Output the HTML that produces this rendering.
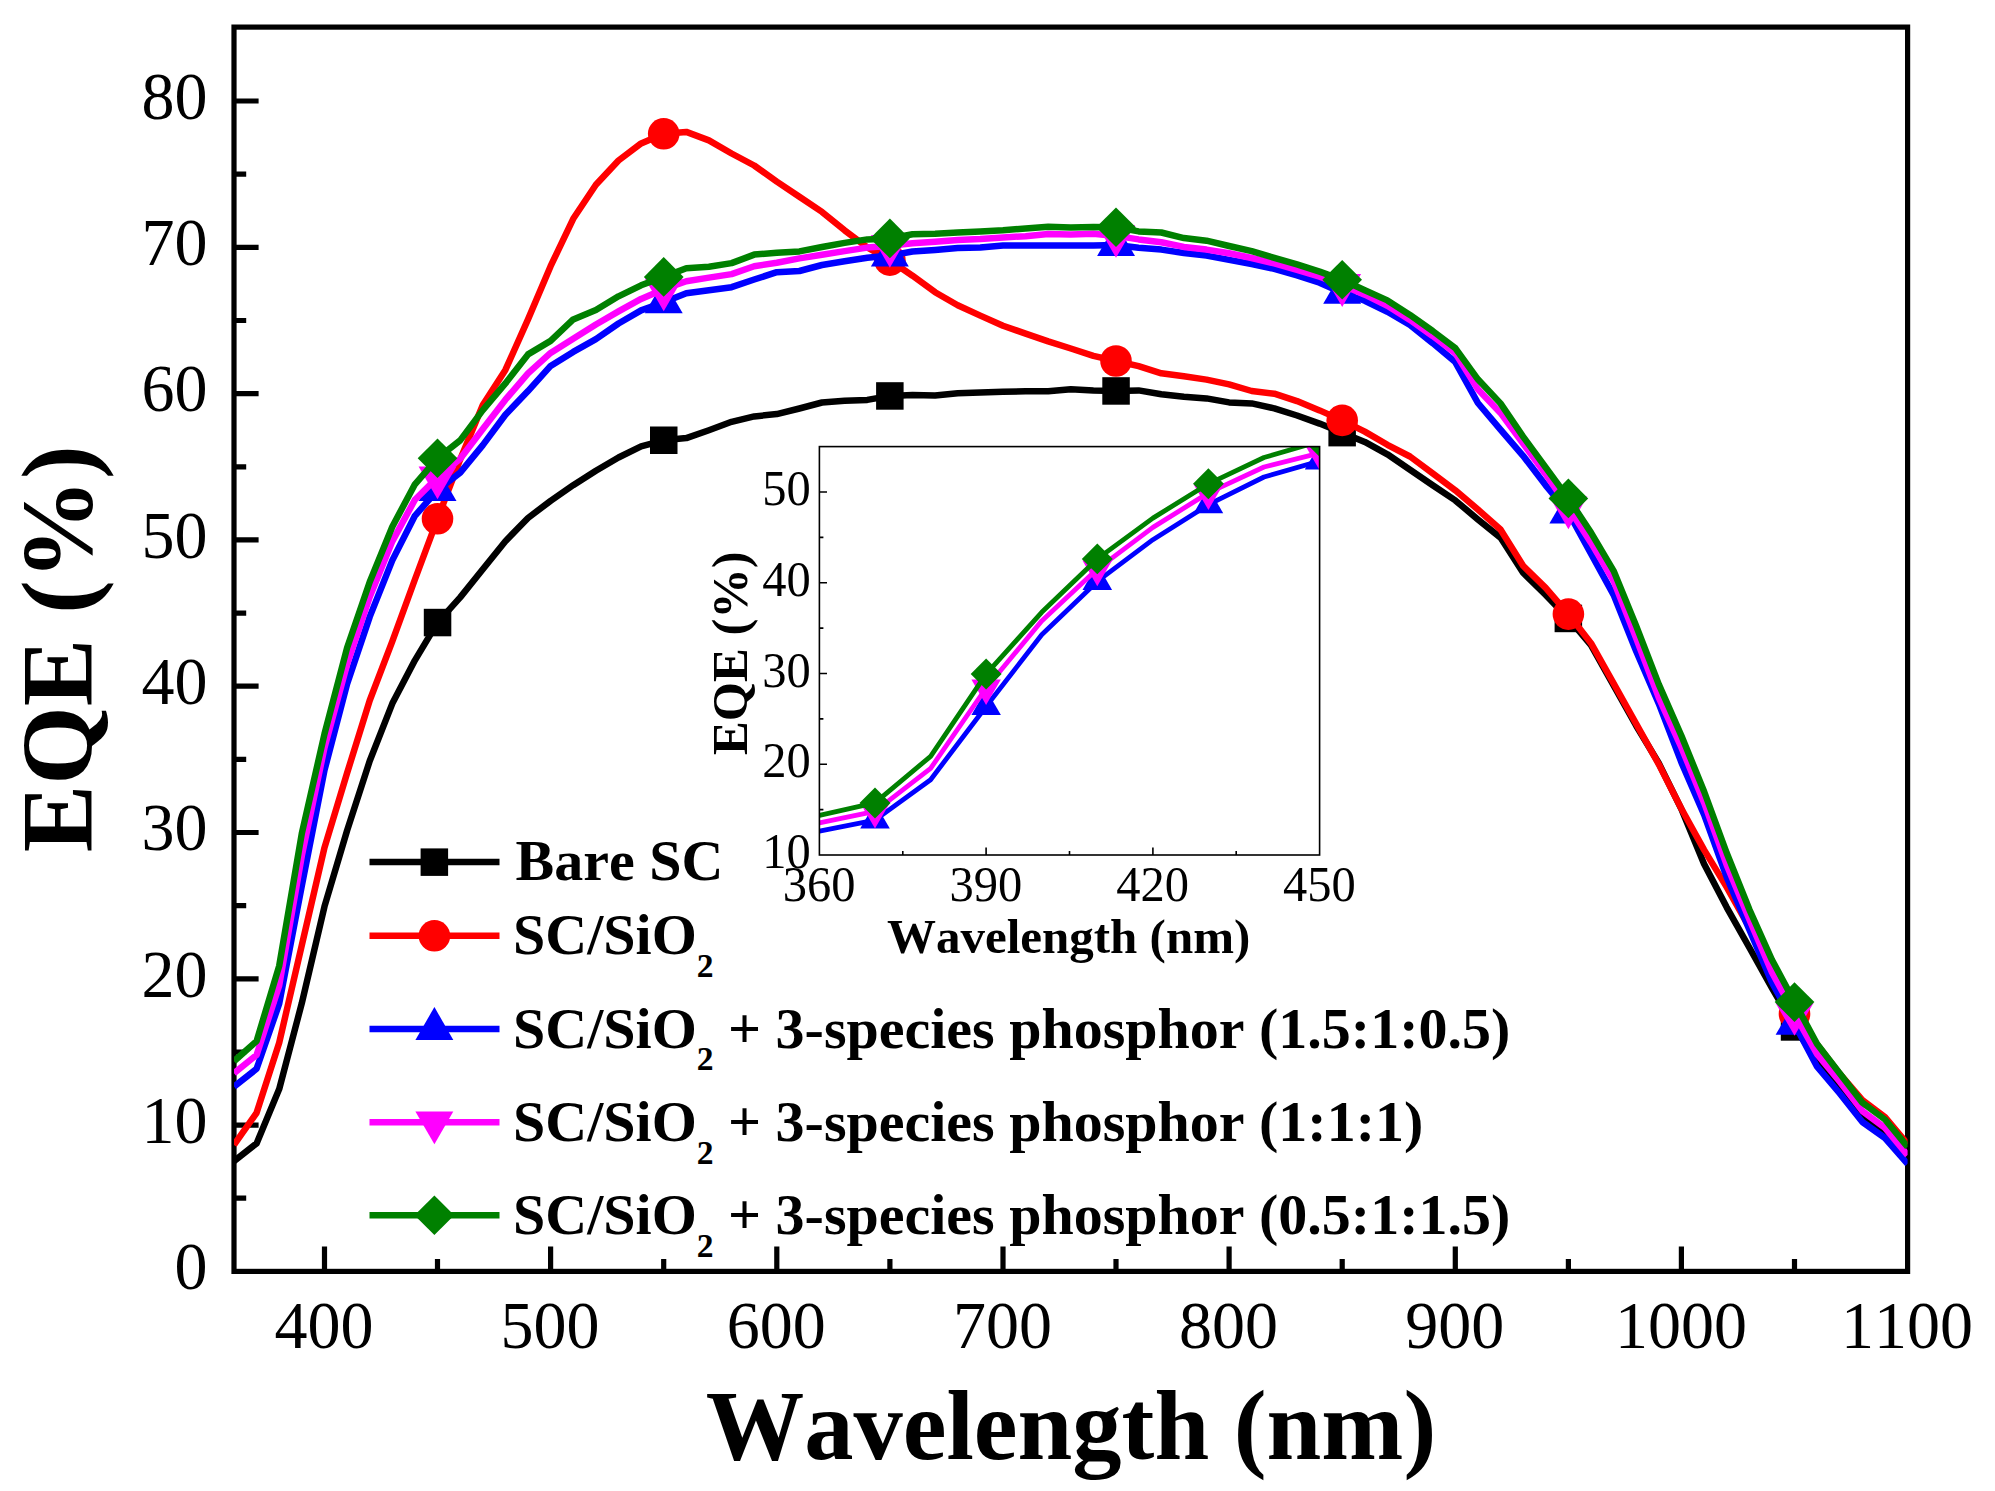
<!DOCTYPE html>
<html lang="en"><head><meta charset="utf-8"><title>EQE vs Wavelength</title>
<style>html,body{margin:0;padding:0;background:#fff}svg{display:block}text{font-kerning:none;font-family:"Liberation Serif",serif;fill:#000}.b{font-weight:bold}</style></head><body>
<svg width="1995" height="1491" viewBox="0 0 1995 1491">
<rect width="1995" height="1491" fill="#fff"/>
<defs><clipPath id="cm"><rect x="234" y="27.1" width="1673.6" height="1244.3"/></clipPath>
<clipPath id="ci"><rect x="819.4" y="446.6" width="500.2" height="408.4"/></clipPath></defs>
<g stroke="#000" stroke-width="5.2" fill="none">
<rect x="234" y="27.1" width="1673.6" height="1244.3"/>
<path d="M234 1198.2h12.2M234 1125.1h24.6M234 1052h12.2M234 978.8h24.6M234 905.7h12.2M234 832.5h24.6M234 759.4h12.2M234 686.2h24.6M234 613.1h12.2M234 539.9h24.6M234 466.8h12.2M234 393.6h24.6M234 320.5h12.2M234 247.3h24.6M234 174.2h12.2M234 101h24.6M324.5 1271.4v-24.8M437.5 1271.4v-12.4M550.6 1271.4v-24.8M663.7 1271.4v-12.4M776.8 1271.4v-24.8M889.9 1271.4v-12.4M1003 1271.4v-24.8M1116 1271.4v-12.4M1229.1 1271.4v-24.8M1342.2 1271.4v-12.4M1455.3 1271.4v-24.8M1568.4 1271.4v-12.4M1681.4 1271.4v-24.8M1794.5 1271.4v-12.4"/>
</g>
<g clip-path="url(#cm)">
<polyline points="234,1161.1 256.6,1143.4 279.2,1089.1 301.8,1003.2 324.5,906.4 347.1,830.5 369.7,761 392.3,703.6 414.9,660.3 437.5,622.6 460.2,597.4 482.8,569.2 505.4,541.2 528,518 550.6,500.8 573.2,485.2 595.9,470.8 618.5,457.5 641.1,446.3 663.7,440.3 686.3,438.1 708.9,430.2 731.6,421.8 754.2,416.4 776.8,414.1 799.4,408.5 822,402.5 844.6,400.8 867.3,399.9 889.9,395.9 912.5,394.9 935.1,395.5 957.7,393.2 980.3,392.6 1003,391.8 1025.6,391.3 1048.2,391.3 1070.8,389.2 1093.4,390.5 1116,391 1138.6,390.4 1161.3,394.3 1183.9,396.8 1206.5,398.4 1229.1,402.4 1251.7,403.4 1274.3,408.4 1297,415.5 1319.6,423.6 1342.2,432.7 1364.8,441.9 1387.4,454.3 1410,469.7 1432.7,485.3 1455.3,500.4 1477.9,519.4 1500.5,537.6 1523.1,572.8 1545.7,594.9 1568.4,618.5 1591,645.2 1613.6,685.5 1636.2,725.7 1658.8,763.2 1681.4,809.1 1704.1,864 1726.7,907.3 1749.3,947.5 1771.9,987.9 1794.5,1026.9 1817.1,1060.7 1839.8,1088.5 1862.4,1116.3 1885,1133.9 1907.6,1160.2" fill="none" stroke="#000000" stroke-width="6.5" stroke-linejoin="round"/>
<g fill="#000000">
<rect x="423.8" y="608.8" width="27.5" height="27.5"/>
<rect x="650" y="426.5" width="27.5" height="27.5"/>
<rect x="876.1" y="382.2" width="27.5" height="27.5"/>
<rect x="1102.3" y="377.2" width="27.5" height="27.5"/>
<rect x="1328.4" y="418.9" width="27.5" height="27.5"/>
<rect x="1554.6" y="604.7" width="27.5" height="27.5"/>
<rect x="1780.8" y="1013.2" width="27.5" height="27.5"/>
</g>
<polyline points="234,1144.9 256.6,1112.8 279.2,1042.7 301.8,945.2 324.5,847.6 347.1,773 369.7,700.5 392.3,641.3 414.9,579.5 437.5,518.8 460.2,459.4 482.8,404.9 505.4,369.9 528,319.4 550.6,266.2 573.2,218.8 595.9,184.7 618.5,160.5 641.1,143.4 663.7,133.8 686.3,131.9 708.9,140.4 731.6,153.5 754.2,165.5 776.8,181.6 799.4,196.8 822,211.9 844.6,230.3 867.3,247.4 889.9,260.2 912.5,275.7 935.1,292.2 957.7,305.2 980.3,315.6 1003,325.7 1025.6,333.6 1048.2,341.4 1070.8,348.5 1093.4,355.9 1116,361 1138.6,366.2 1161.3,373.3 1183.9,376.3 1206.5,379.6 1229.1,384.4 1251.7,391 1274.3,393.7 1297,401.1 1319.6,410.4 1342.2,420.4 1364.8,431.6 1387.4,444.8 1410,456.5 1432.7,473.3 1455.3,490.3 1477.9,509.5 1500.5,529.5 1523.1,565.8 1545.7,587.9 1568.4,614.1 1591,643.2 1613.6,683.4 1636.2,723.9 1658.8,764.3 1681.4,808.7 1704.1,849.9 1726.7,887.1 1749.3,927.4 1771.9,963.6 1794.5,1013.9 1817.1,1044.6 1839.8,1073.9 1862.4,1100.2 1885,1117.1 1907.6,1144.1" fill="none" stroke="#ff0000" stroke-width="6.5" stroke-linejoin="round"/>
<g fill="#ff0000">
<circle cx="437.5" cy="518.8" r="15.8"/>
<circle cx="663.7" cy="133.8" r="15.8"/>
<circle cx="889.9" cy="260.2" r="15.8"/>
<circle cx="1116" cy="361" r="15.8"/>
<circle cx="1342.2" cy="420.4" r="15.8"/>
<circle cx="1568.4" cy="614.1" r="15.8"/>
<circle cx="1794.5" cy="1013.9" r="15.8"/>
</g>
<polyline points="234,1086.6 256.6,1068.8 279.2,1003.7 301.8,885.8 324.5,770.2 347.1,684 369.7,616.9 392.3,560.4 414.9,515.8 437.5,490.2 460.2,472.6 482.8,445.1 505.4,414.8 528,391.1 550.6,365.9 573.2,351.9 595.9,339.2 618.5,323.5 641.1,310.4 663.7,302.3 686.3,293.2 708.9,290.3 731.6,287.2 754.2,279.5 776.8,272.2 799.4,271 822,265 844.6,261.3 867.3,257.8 889.9,255.6 912.5,251.5 935.1,249.9 957.7,248 980.3,247.4 1003,245.4 1025.6,245.4 1048.2,245.4 1070.8,245.4 1093.4,245.4 1116,245.1 1138.6,247.7 1161.3,249.6 1183.9,253 1206.5,255.6 1229.1,259.9 1251.7,264 1274.3,268.8 1297,275.4 1319.6,282.7 1342.2,292.8 1364.8,300.8 1387.4,311.8 1410,325 1432.7,343.1 1455.3,362.1 1477.9,403 1500.5,429.6 1523.1,455.8 1545.7,485.3 1568.4,512.5 1591,553.7 1613.6,594.9 1636.2,651.2 1658.8,703.6 1681.4,762.4 1704.1,814.7 1726.7,877.1 1749.3,929.4 1771.9,982.5 1794.5,1023.9 1817.1,1066.7 1839.8,1093.5 1862.4,1122 1885,1138 1907.6,1163.9" fill="none" stroke="#0000ff" stroke-width="6.5" stroke-linejoin="round"/>
<g fill="#0000ff">
<polygon points="437.5,468.3 456.5,501.1 418.6,501.1"/>
<polygon points="663.7,280.4 682.7,313.2 644.8,313.2"/>
<polygon points="889.9,233.8 908.8,266.6 870.9,266.6"/>
<polygon points="1116,223.2 1135,256 1097.1,256"/>
<polygon points="1342.2,270.9 1361.1,303.7 1323.2,303.7"/>
<polygon points="1568.4,490.7 1587.3,523.5 1549.4,523.5"/>
<polygon points="1794.5,1002 1813.5,1034.8 1775.6,1034.8"/>
</g>
<polyline points="234,1073.3 256.6,1054.9 279.2,985.5 301.8,855.9 324.5,747.6 347.1,664.3 369.7,597 392.3,541.4 414.9,499.7 437.5,477.4 460.2,458.7 482.8,429 505.4,399.7 528,373.4 550.6,352.9 573.2,338.7 595.9,324.5 618.5,311.4 641.1,298.9 663.7,289.3 686.3,281.2 708.9,277.6 731.6,274.1 754.2,266.2 776.8,262.7 799.4,258.4 822,254.8 844.6,251.1 867.3,247.6 889.9,245.8 912.5,243.3 935.1,241.7 957.7,240.1 980.3,239.1 1003,237.4 1025.6,236.2 1048.2,234.1 1070.8,234.4 1093.4,233.7 1116,235.9 1138.6,239.4 1161.3,242.2 1183.9,246.9 1206.5,249.6 1229.1,253.2 1251.7,258 1274.3,263.4 1297,269.8 1319.6,276.6 1342.2,285 1364.8,294.7 1387.4,305.8 1410,319.9 1432.7,336 1455.3,353.1 1477.9,389.2 1500.5,412.9 1523.1,443.6 1545.7,474.2 1568.4,507.4 1591,542.7 1613.6,580.9 1636.2,638.2 1658.8,697.6 1681.4,747.4 1704.1,802.7 1726.7,865 1749.3,919.3 1771.9,972.2 1794.5,1013.9 1817.1,1054.1 1839.8,1081.8 1862.4,1111.1 1885,1127.9 1907.6,1155.1" fill="none" stroke="#ff00ff" stroke-width="6.5" stroke-linejoin="round"/>
<g fill="#ff00ff">
<polygon points="437.5,499.3 456.5,466.5 418.6,466.5"/>
<polygon points="663.7,311.2 682.7,278.4 644.8,278.4"/>
<polygon points="889.9,267.7 908.8,234.9 870.9,234.9"/>
<polygon points="1116,257.8 1135,225 1097.1,225"/>
<polygon points="1342.2,306.9 1361.1,274.1 1323.2,274.1"/>
<polygon points="1568.4,529.3 1587.3,496.5 1549.4,496.5"/>
<polygon points="1794.5,1035.8 1813.5,1003 1775.6,1003"/>
</g>
<polyline points="234,1061.2 256.6,1041.1 279.2,965.9 301.8,833.5 324.5,733.9 347.1,647.7 369.7,582 392.3,526.7 414.9,484.3 437.5,458.3 460.2,440.4 482.8,410.1 505.4,383.4 528,354.4 550.6,340.9 573.2,319.4 595.9,310.1 618.5,296.3 641.1,285.3 663.7,276.9 686.3,268.2 708.9,266.8 731.6,263.1 754.2,254.6 776.8,252.7 799.4,251.4 822,247 844.6,242.9 867.3,239.4 889.9,238.4 912.5,234.3 935.1,233.7 957.7,232.5 980.3,231.4 1003,230.2 1025.6,228.4 1048.2,226.8 1070.8,227.4 1093.4,227 1116,227.3 1138.6,231.4 1161.3,232.5 1183.9,238.1 1206.5,240.7 1229.1,246 1251.7,251.1 1274.3,257.8 1297,264.4 1319.6,271.6 1342.2,279.8 1364.8,290.2 1387.4,300.4 1410,314.9 1432.7,331 1455.3,348.1 1477.9,379.3 1500.5,403.4 1523.1,436.6 1545.7,467.5 1568.4,498.4 1591,532.6 1613.6,570.8 1636.2,626.1 1658.8,684.4 1681.4,735.8 1704.1,791.5 1726.7,853 1749.3,909.3 1771.9,959.8 1794.5,1002.1 1817.1,1044 1839.8,1073.5 1862.4,1102.7 1885,1119.5 1907.6,1147" fill="none" stroke="#008000" stroke-width="6.5" stroke-linejoin="round"/>
<g fill="#008000">
<polygon points="437.5,438.4 457.4,458.3 437.5,478.1 417.7,458.3"/>
<polygon points="663.7,257 683.6,276.9 663.7,296.7 643.9,276.9"/>
<polygon points="889.9,218.5 909.7,238.4 889.9,258.2 870,238.4"/>
<polygon points="1116,207.4 1135.9,227.3 1116,247.1 1096.2,227.3"/>
<polygon points="1342.2,259.9 1362,279.8 1342.2,299.6 1322.3,279.8"/>
<polygon points="1568.4,478.5 1588.2,498.4 1568.4,518.2 1548.5,498.4"/>
<polygon points="1794.5,982.2 1814.4,1002.1 1794.5,1021.9 1774.7,1002.1"/>
</g>
</g>
<g font-size="66">
<text text-anchor="end" transform="translate(207.4 1289.2) scale(1 1.04)">0</text>
<text text-anchor="end" transform="translate(207.4 1142.9) scale(1 1.04)">10</text>
<text text-anchor="end" transform="translate(207.4 996.6) scale(1 1.04)">20</text>
<text text-anchor="end" transform="translate(207.4 850.3) scale(1 1.04)">30</text>
<text text-anchor="end" transform="translate(207.4 704) scale(1 1.04)">40</text>
<text text-anchor="end" transform="translate(207.4 557.7) scale(1 1.04)">50</text>
<text text-anchor="end" transform="translate(207.4 411.4) scale(1 1.04)">60</text>
<text text-anchor="end" transform="translate(207.4 265.1) scale(1 1.04)">70</text>
<text text-anchor="end" transform="translate(207.4 118.8) scale(1 1.04)">80</text>
<text text-anchor="middle" transform="translate(324 1348.4) scale(1 1.04)">400</text>
<text text-anchor="middle" transform="translate(550.1 1348.4) scale(1 1.04)">500</text>
<text text-anchor="middle" transform="translate(776.3 1348.4) scale(1 1.04)">600</text>
<text text-anchor="middle" transform="translate(1002.5 1348.4) scale(1 1.04)">700</text>
<text text-anchor="middle" transform="translate(1228.6 1348.4) scale(1 1.04)">800</text>
<text text-anchor="middle" transform="translate(1454.8 1348.4) scale(1 1.04)">900</text>
<text text-anchor="middle" transform="translate(1680.9 1348.4) scale(1 1.04)">1000</text>
<text text-anchor="middle" transform="translate(1907.1 1348.4) scale(1 1.04)">1100</text>
</g>
<text class="b" font-size="98.5" text-anchor="middle" transform="translate(1071 1459.4) scale(1 1.01)">Wavelength (nm)</text>
<text class="b" font-size="101" text-anchor="middle" transform="translate(92 648.8) rotate(-90) scale(1 1.013)">EQE (%)</text>
<path d="M369.5 862.1H499.5" stroke="#000000" stroke-width="6.5"/>
<g fill="#000000"><rect x="420.6" y="848.4" width="27.5" height="27.5"/></g>
<text class="b" font-size="58" x="515.6" y="880.3">Bare SC</text>
<path d="M369.5 935.8H499.5" stroke="#ff0000" stroke-width="6.5"/>
<g fill="#ff0000"><circle cx="434.4" cy="935.8" r="15.8"/></g>
<text class="b" font-size="58" x="513.0" y="954.4">SC/SiO<tspan font-size="33.6" dy="22.6">2</tspan></text>
<path d="M369.5 1029H499.5" stroke="#0000ff" stroke-width="6.5"/>
<g fill="#0000ff"><polygon points="434.4,1007.1 453.3,1039.9 415.4,1039.9"/></g>
<text class="b" font-size="58" x="513.0" y="1047.6">SC/SiO<tspan font-size="33.6" dy="22.6">2</tspan><tspan dy="-22.6"> + 3-species phosphor (1.5:1:0.5)</tspan></text>
<path d="M369.5 1122.3H499.5" stroke="#ff00ff" stroke-width="6.5"/>
<g fill="#ff00ff"><polygon points="434.4,1144.2 453.3,1111.4 415.4,1111.4"/></g>
<text class="b" font-size="58" x="513.0" y="1140.9">SC/SiO<tspan font-size="33.6" dy="22.6">2</tspan><tspan dy="-22.6"> + 3-species phosphor (1:1:1)</tspan></text>
<path d="M369.5 1215.3H499.5" stroke="#008000" stroke-width="6.5"/>
<g fill="#008000"><polygon points="434.4,1195.5 454.2,1215.3 434.4,1235.1 414.5,1215.3"/></g>
<text class="b" font-size="58" x="513.0" y="1233.9">SC/SiO<tspan font-size="33.6" dy="22.6">2</tspan><tspan dy="-22.6"> + 3-species phosphor (0.5:1:1.5)</tspan></text>
<g clip-path="url(#ci)">
<polyline points="819.4,831.1 875,820.1 930.6,779.7 986.1,706.5 1041.7,634.8 1097.3,581.4 1152.9,539.7 1208.4,504.7 1264,477 1319.6,461.1" fill="none" stroke="#0000ff" stroke-width="4.8" stroke-linejoin="round"/>
<g fill="#0000ff">
<polygon points="875,803 889.8,828.6 860.2,828.6"/>
<polygon points="986.1,689.5 1000.9,715.1 971.4,715.1"/>
<polygon points="1097.3,564.3 1112.1,589.9 1082.5,589.9"/>
<polygon points="1208.4,487.6 1223.2,513.2 1193.7,513.2"/>
<polygon points="1319.6,444.1 1334.4,469.6 1304.8,469.6"/>
</g>
<polyline points="819.4,822.9 875,811.4 930.6,768.4 986.1,688 1041.7,620.9 1097.3,569.1 1152.9,527.4 1208.4,492.9 1264,467 1319.6,453.2" fill="none" stroke="#ff00ff" stroke-width="4.8" stroke-linejoin="round"/>
<g fill="#ff00ff">
<polygon points="875,828.5 889.8,802.9 860.2,802.9"/>
<polygon points="986.1,705.1 1000.9,679.5 971.4,679.5"/>
<polygon points="1097.3,586.2 1112.1,560.6 1082.5,560.6"/>
<polygon points="1208.4,509.9 1223.2,484.4 1193.7,484.4"/>
<polygon points="1319.6,470.3 1334.4,444.7 1304.8,444.7"/>
</g>
<polyline points="819.4,815.3 875,802.9 930.6,756.3 986.1,674.1 1041.7,612.3 1097.3,558.9 1152.9,518.1 1208.4,483.8 1264,457.5 1319.6,441.3" fill="none" stroke="#008000" stroke-width="4.8" stroke-linejoin="round"/>
<g fill="#008000">
<polygon points="875,787.4 890.5,802.9 875,818.4 859.5,802.9"/>
<polygon points="986.1,658.6 1001.6,674.1 986.1,689.6 970.7,674.1"/>
<polygon points="1097.3,543.4 1112.8,558.9 1097.3,574.3 1081.8,558.9"/>
<polygon points="1208.4,468.3 1223.9,483.8 1208.4,499.3 1193,483.8"/>
<polygon points="1319.6,425.9 1335.1,441.3 1319.6,456.8 1304.1,441.3"/>
</g>
</g>
<g stroke="#000" stroke-width="1.6" fill="none">
<rect x="819.4" y="446.6" width="500.2" height="408.4"/>
<path d="M819.4 809.6h4M819.4 764.2h7.6M819.4 718.9h4M819.4 673.5h7.6M819.4 628.1h4M819.4 582.7h7.6M819.4 537.4h4M819.4 492h7.6M902.8 855v-4M986.1 855v-7.6M1069.5 855v-4M1152.9 855v-7.6M1236.2 855v-4"/>
</g>
<g font-size="48.5">
<text text-anchor="end" transform="translate(810.8 868) scale(1 1.04)">10</text>
<text text-anchor="end" transform="translate(810.8 777.2) scale(1 1.04)">20</text>
<text text-anchor="end" transform="translate(810.8 686.5) scale(1 1.04)">30</text>
<text text-anchor="end" transform="translate(810.8 595.7) scale(1 1.04)">40</text>
<text text-anchor="end" transform="translate(810.8 505) scale(1 1.04)">50</text>
<text text-anchor="middle" transform="translate(819.1 901) scale(1 1.04)">360</text>
<text text-anchor="middle" transform="translate(985.8 901) scale(1 1.04)">390</text>
<text text-anchor="middle" transform="translate(1152.6 901) scale(1 1.04)">420</text>
<text text-anchor="middle" transform="translate(1319.3 901) scale(1 1.04)">450</text>
</g>
<text class="b" font-size="49" text-anchor="middle" transform="translate(1068.6 952.8) scale(1 1.01)">Wavelength (nm)</text>
<text class="b" font-size="50.6" text-anchor="middle" transform="translate(746.6 653.2) rotate(-90) scale(1 1.013)">EQE (%)</text>
</svg></body></html>
